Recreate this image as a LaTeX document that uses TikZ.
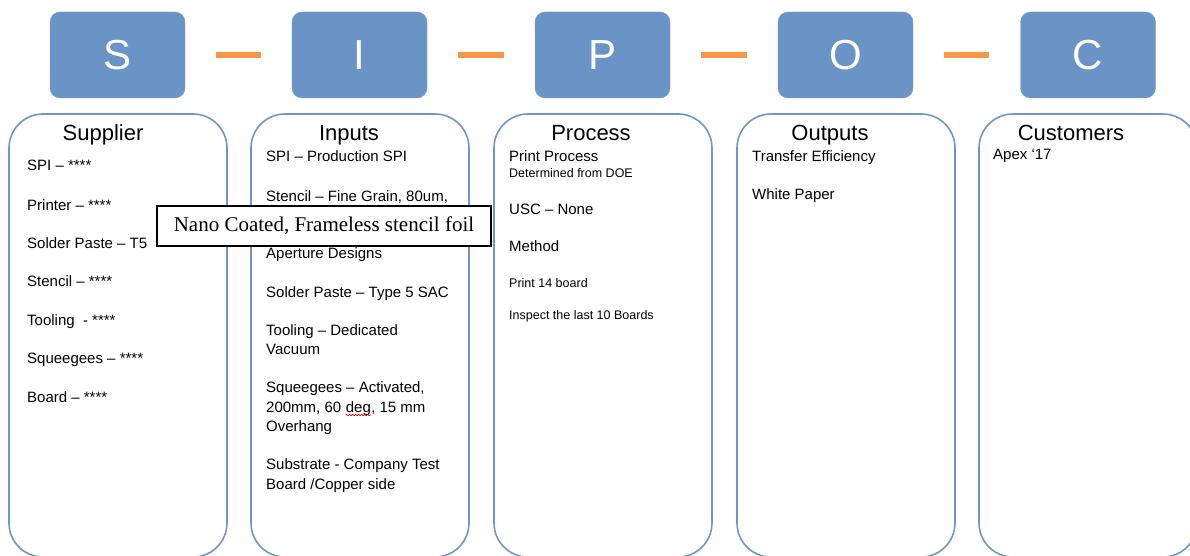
\documentclass[tikz,border=0pt]{standalone}
\usepackage{fontspec}
\setmainfont{Liberation Sans}
\newfontfamily\serifface{Liberation Serif}
\usetikzlibrary{decorations.pathmorphing}
\definecolor{tileblue}{HTML}{6A93C6}
\definecolor{frameblue}{HTML}{6F96C9}
\definecolor{linkorange}{HTML}{F79646}
\tikzset{
  tile/.style={fill=tileblue, draw=tileblue!90!white, rounded corners=10pt,
    minimum width=135pt, minimum height=86pt, inner sep=0pt,
    text=white, font=\fontsize{42}{42}\selectfont},
  link/.style={draw=linkorange, line width=6pt, shorten <=31pt, shorten >=31pt},
  column/.style={draw=frameblue, line width=1.6pt, rounded corners=34pt},
  heading/.style={anchor=base, inner sep=0pt, font=\fontsize{22}{22}\selectfont},
  item/.style={anchor=base west, inner sep=0pt, font=\fontsize{15}{15}\selectfont},
  smallitem/.style={anchor=base west, inner sep=0pt, font=\fontsize{12.5}{12.5}\selectfont},
  spell/.style={red!80!black, line width=0.6pt, decorate,
    decoration={snake, amplitude=0.8pt, segment length=3pt}},
  callout/.style={draw=black, line width=1.2pt, fill=white, inner sep=0pt,
    minimum width=334pt, minimum height=40pt, font=\serifface\fontsize{21}{21}\selectfont},
}
\begin{document}
\begin{tikzpicture}[x=1pt, y=-1pt]
\useasboundingbox (0,0) rectangle (1190,556);

% letter tiles across the top
\node[tile] (tS) at (117.5,55) {S};
\node[tile] (tI) at (359.5,55) {I};
\node[tile] (tP) at (602.5,55) {P};
\node[tile] (tO) at (845.5,55) {O};
\node[tile] (tC) at (1088,55) {C};
\draw[link] (tS) -- (tI);
\draw[link] (tI) -- (tP);
\draw[link] (tP) -- (tO);
\draw[link] (tO) -- (tC);

% column frames
\draw[column] (9,114) rectangle (227,557);
\draw[column] (251,114) rectangle (469,557);
\draw[column] (494,114) rectangle (712,557);
\draw[column] (737,114) rectangle (955,557);
\draw[column] (979,114) rectangle (1197,557);

% Supplier
\node[heading] (hS) at (103,141) {Supplier};
\node[item] (s1) at (27,171) {SPI – ****};
\node[item] (s2) at (27,210) {Printer – ****};
\node[item] (s3) at (27,248) {Solder Paste – T5};
\node[item] (s4) at (27,286) {Stencil – ****};
\node[item] (s5) at (27,325) {Tooling \ - ****};
\node[item] (s6) at (27,363) {Squeegees – ****};
\node[item] (s7) at (27,402) {Board – ****};

% Inputs
\node[heading] (hI) at (349,141) {Inputs};
\node[item] (i1) at (266,162) {SPI – Production SPI};
\node[item] (i2) at (266,201) {Stencil – Fine Grain, 80um,};
\node[item] (i3) at (266,258) {Aperture Designs};
\node[item] (i4) at (266,297) {Solder Paste – Type 5 SAC};
\node[item] (i5a) at (266,335) {Tooling – Dedicated};
\node[item] (i5b) at (266,354) {Vacuum};
\node[item] (i6a) at (266,392) {Squeegees – Activated,};
\node[item] (i6b) at (266,412) {200mm, 60};
\node[item] (i6c) at ([xshift=4.2pt]i6b.base east) {deg};
\node[item] (i6d) at (i6c.base east) {, 15 mm};
\node[item] (i6e) at (266,431) {Overhang};
\node[item] (i7a) at (266,469) {Substrate - Company Test};
\node[item] (i7b) at (266,489) {Board /Copper side};
\draw[spell] ([yshift=-3pt]i6c.base west) -- ([yshift=-3pt]i6c.base east);

% Process
\node[heading] (hP) at (591,141) {Process};
\node[item] (p1) at (509,162) {Print Process};
\node[smallitem] (p2) at (509,178) {Determined from DOE};
\node[item] (p3) at (509,214) {USC – None};
\node[item] (p4) at (509,251) {Method};
\node[smallitem] (p5) at (509,287) {Print 14 board};
\node[smallitem] (p6) at (509,319) {Inspect the last 10 Boards};

% Outputs
\node[heading] (hO) at (830,141) {Outputs};
\node[item] (o1) at (752,161) {Transfer Efficiency};
\node[item] (o2) at (752,200) {White Paper};

% Customers
\node[heading] (hC) at (1071,141) {Customers};
\node[item] (c1) at (993,160) {Apex ‘17};

% callout laid over the Inputs column
\node[callout] (note) at (324,226) {Nano Coated, Frameless stencil foil};
\end{tikzpicture}
\end{document}
